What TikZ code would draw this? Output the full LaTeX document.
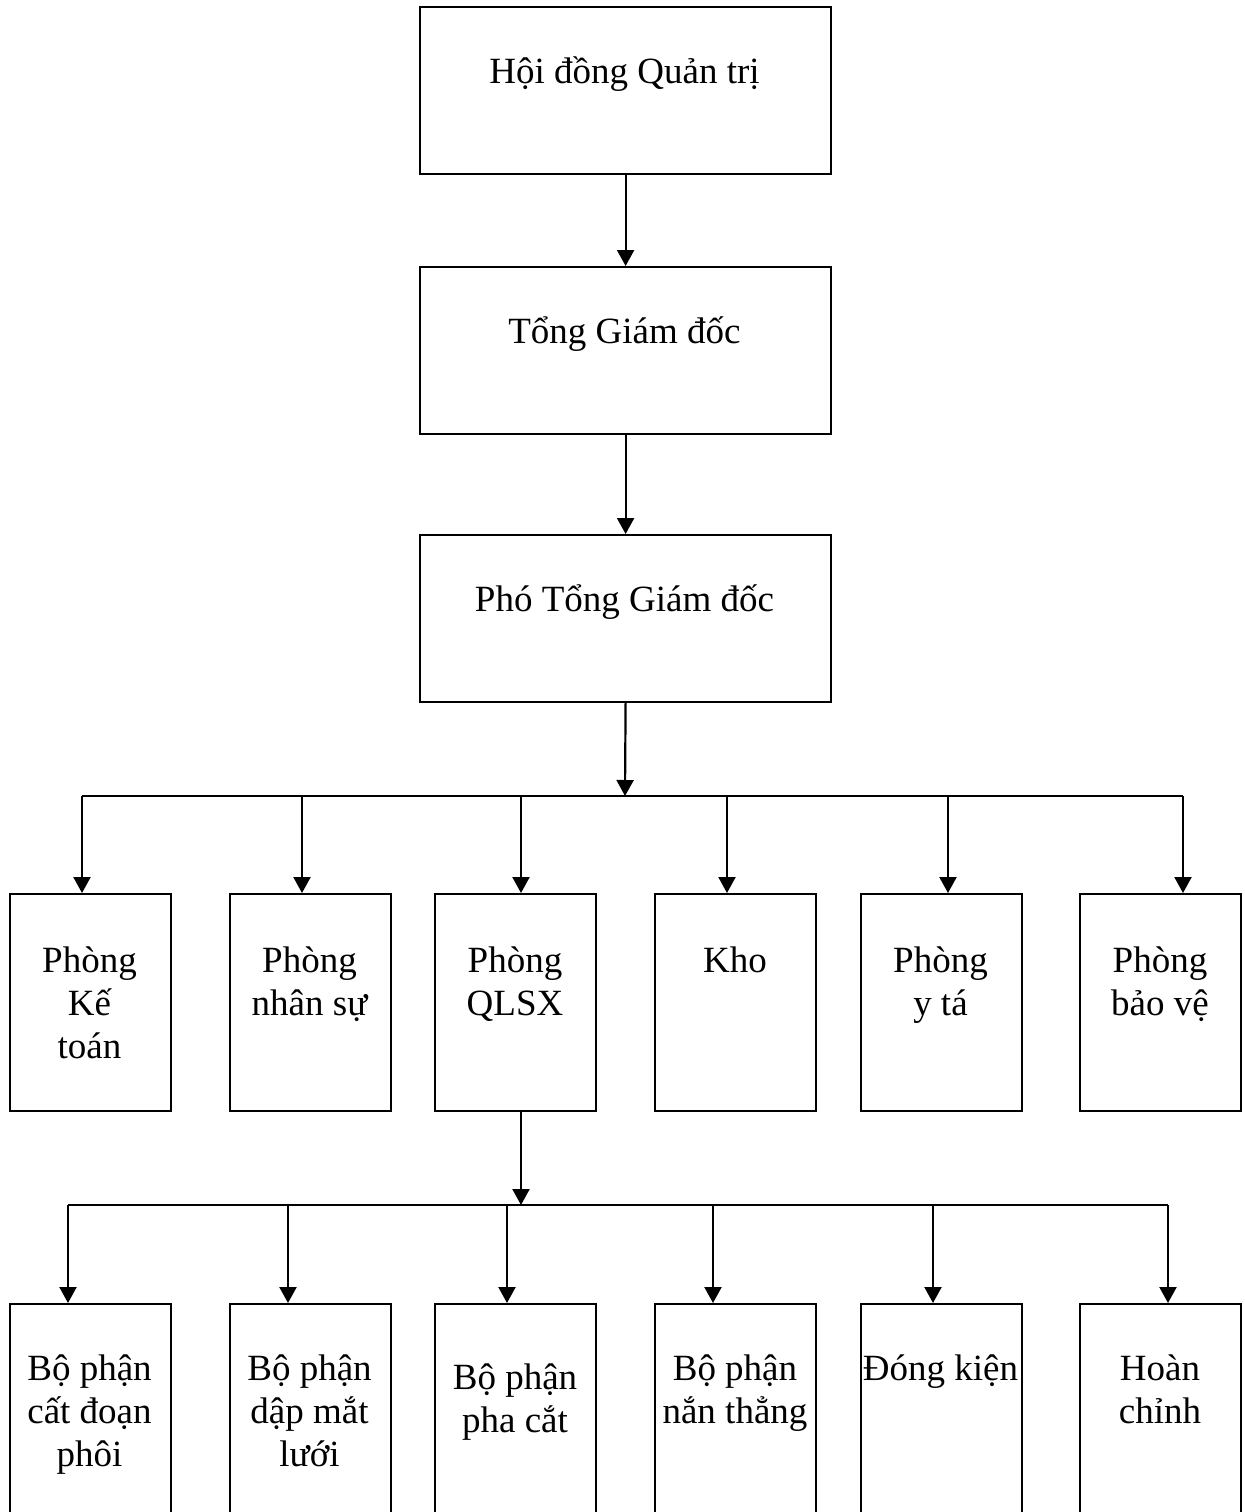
\documentclass[tikz,border=0pt]{standalone}
\usepackage{fontspec}
\setmainfont{Liberation Serif}
\usetikzlibrary{arrows.meta}
\tikzset{
  bigbox/.style={draw, line width=1.1pt, anchor=north west, inner sep=0pt, minimum width=205.5pt, minimum height=83.5pt},
  midbox/.style={draw, line width=1.1pt, anchor=north west, inner sep=0pt, minimum width=80.5pt, minimum height=108.5pt},
  lowbox/.style={draw, line width=1.1pt, anchor=north west, inner sep=0pt, minimum width=80.5pt, minimum height=130pt},
  lbl/.style={anchor=base, inner sep=0pt, font=\fontsize{18.5pt}{21.5pt}\selectfont},
  arr/.style={line width=1.1pt, -{Triangle[width=8.5pt,length=8pt]}},
  bus/.style={line width=1.1pt}
}
\newcommand{\ml}[1]{\begin{tabular}[t]{@{}c@{}}#1\end{tabular}}
\begin{document}
\begin{tikzpicture}[x=0.5pt,y=-0.5pt]
\useasboundingbox (0,0) rectangle (1244,1512);
\clip (0,0) rectangle (1244,1512);
% top boxes
\node[bigbox] (hd) at (419,6) {};
\node[bigbox] (tgd) at (419,266) {};
\node[bigbox] (ptgd) at (419,534) {};
\node[lbl] (hdt) at (624.5,83) {Hội đồng Quản trị};
\node[lbl] (tgdt) at (624.5,343) {Tổng Giám đốc};
\node[lbl] (ptgdt) at (624.5,611) {Phó Tổng Giám đốc};
% middle boxes
\node[midbox] (pkt) at (9,893) {};
\node[midbox] (pns) at (229,893) {};
\node[midbox] (qlsx) at (434,893) {};
\node[midbox] (kho) at (654,893) {};
\node[midbox] (pyt) at (860,893) {};
\node[midbox] (pbv) at (1079,893) {};
\node[lbl] (pktt) at (89.5,972) {\ml{Phòng\\Kế\\toán}};
\node[lbl] (pnst) at (309.5,972) {\ml{Phòng\\nhân sự}};
\node[lbl] (qlsxt) at (515,972) {\ml{Phòng\\QLSX}};
\node[lbl] (khot) at (735,972) {Kho};
\node[lbl] (pytt) at (940.5,972) {\ml{Phòng\\y tá}};
\node[lbl] (pbvt) at (1160,972) {\ml{Phòng\\bảo vệ}};
% bottom boxes
\node[lowbox] (b1) at (9,1303) {};
\node[lowbox] (b2) at (229,1303) {};
\node[lowbox] (b3) at (434,1303) {};
\node[lowbox] (b4) at (654,1303) {};
\node[lowbox] (b5) at (860,1303) {};
\node[lowbox] (b6) at (1079,1303) {};
\node[lbl] (b1t) at (89.5,1380) {\ml{Bộ phận\\cất đoạn\\phôi}};
\node[lbl] (b2t) at (309.5,1380) {\ml{Bộ phận\\dập mắt\\lưới}};
\node[lbl] (b3t) at (515,1389) {\ml{Bộ phận\\pha cắt}};
\node[lbl] (b4t) at (735,1380) {\ml{Bộ phận\\nắn thẳng}};
\node[lbl] (b5t) at (940.5,1380) {Đóng kiện};
\node[lbl] (b6t) at (1160,1380) {\ml{Hoàn\\chỉnh}};
% top connectors
\draw[arr] (hd.south) -- (tgd.north);
\draw[arr] (tgd.south) -- (ptgd.north);
% first bus
\coordinate (c1) at (625,796);
\coordinate (a1) at (82,796);
\coordinate (a2) at (302,796);
\coordinate (a3) at (521,796);
\coordinate (a4) at (727,796);
\coordinate (a5) at (948,796);
\coordinate (a6) at (1183,796);
\draw[arr] (ptgd.south) -- (c1);
\draw[bus] (a1) -- (a6);
\draw[arr] (a1) -- (a1 |- pkt.north);
\draw[arr] (a2) -- (a2 |- pns.north);
\draw[arr] (a3) -- (a3 |- qlsx.north);
\draw[arr] (a4) -- (a4 |- kho.north);
\draw[arr] (a5) -- (a5 |- pyt.north);
\draw[arr] (a6) -- (a6 |- pbv.north);
% second bus
\coordinate (c2) at (521,1205);
\coordinate (d1) at (68,1205);
\coordinate (d2) at (288,1205);
\coordinate (d3) at (507,1205);
\coordinate (d4) at (713,1205);
\coordinate (d5) at (933,1205);
\coordinate (d6) at (1168,1205);
\draw[arr] (c2 |- qlsx.south) -- (c2);
\draw[bus] (d1) -- (d6);
\draw[arr] (d1) -- (d1 |- b1.north);
\draw[arr] (d2) -- (d2 |- b2.north);
\draw[arr] (d3) -- (d3 |- b3.north);
\draw[arr] (d4) -- (d4 |- b4.north);
\draw[arr] (d5) -- (d5 |- b5.north);
\draw[arr] (d6) -- (d6 |- b6.north);
\end{tikzpicture}
\end{document}
